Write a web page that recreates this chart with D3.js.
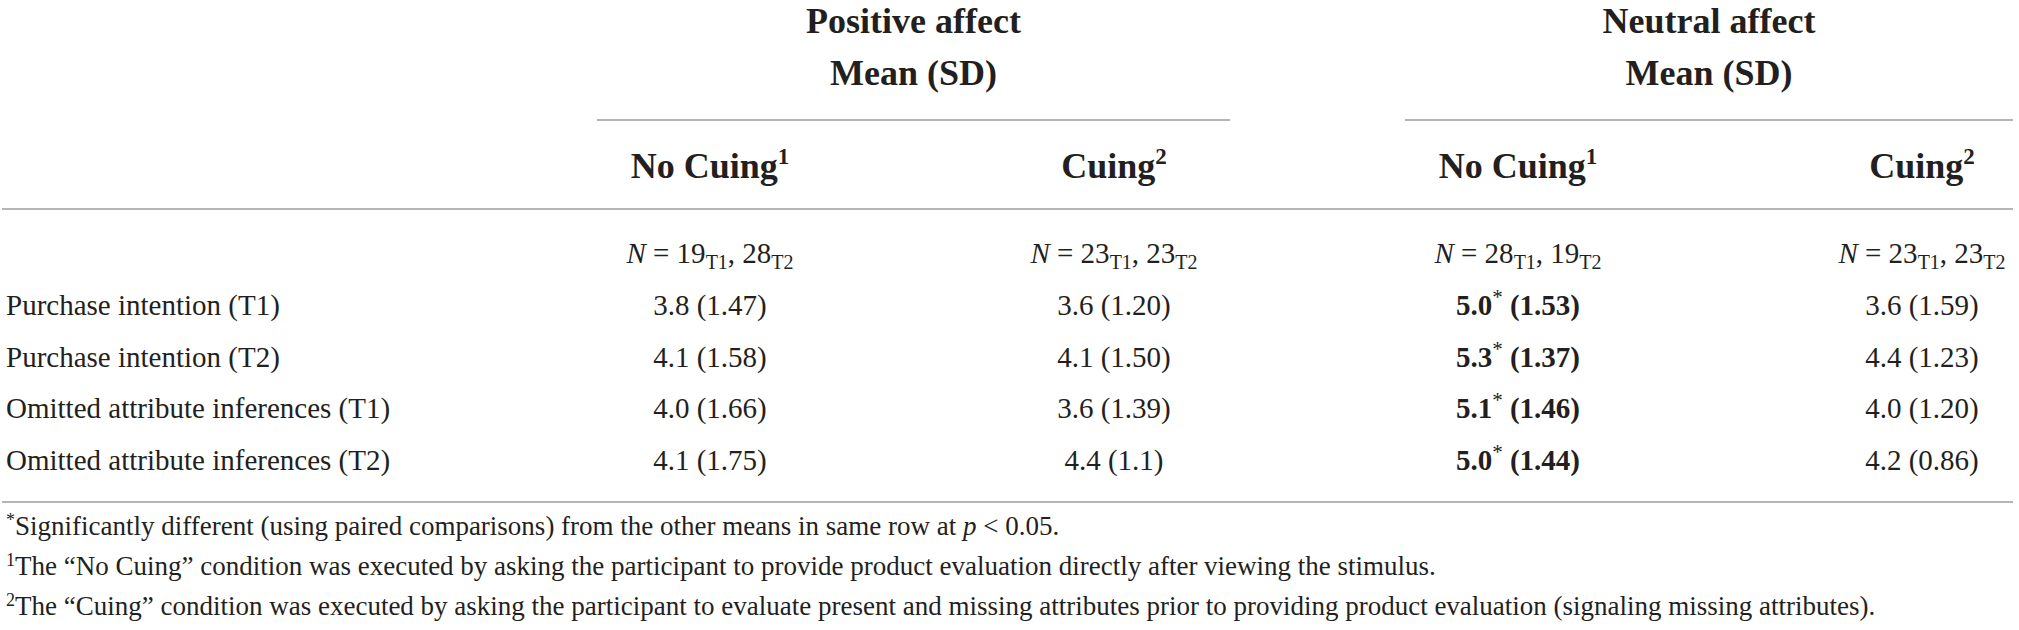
<!DOCTYPE html>
<html>
<head>
<meta charset="utf-8">
<script src="https://cdn.jsdelivr.net/npm/d3@7"></script>
<style>
    html, body { margin: 0; padding: 0; background: #fff; }
    svg { display: block; font-family: "Liberation Serif", "Times New Roman", serif; }
    .title { font-weight: bold; font-size: 36px; fill: #231f20; }
    .cell { font-size: 29px; fill: #231f20; }
    .note { font-size: 27px; fill: #231f20; }
    .rule { stroke: #9d9d9d; stroke-width: 1.6; }
</style>
</head>
<body>
<svg id="table"></svg>
<script>
// ---- table content ----
const groups = ["Positive affect", "Neutral affect"];
const groupSub = "Mean (SD)";
const conditions = ["No Cuing", "Cuing", "No Cuing", "Cuing"];
const condNotes = ["1", "2", "1", "2"];
const nT1 = [19, 23, 28, 23];
const nT2 = [28, 23, 19, 23];
const measures = [
    "Purchase intention (T1)",
    "Purchase intention (T2)",
    "Omitted attribute inferences (T1)",
    "Omitted attribute inferences (T2)"
];
const means = [
    [3.8, 3.6, 5.0, 3.6],
    [4.1, 4.1, 5.3, 4.4],
    [4.0, 3.6, 5.1, 4.0],
    [4.1, 4.4, 5.0, 4.2]
];
const sds = [
    ["1.47", "1.20", "1.53", "1.59"],
    ["1.58", "1.50", "1.37", "1.23"],
    ["1.66", "1.39", "1.46", "1.20"],
    ["1.75", "1.1", "1.44", "0.86"]
];
const significant = [
    [false, false, true, false],
    [false, false, true, false],
    [false, false, true, false],
    [false, false, true, false]
];
const footnotes = [
    [{ t: "*", sup: true }, { t: "Significantly different (using paired comparisons) from the other means in same row at " }, { t: "p", it: true }, { t: " < 0.05." }],
    [{ t: "1", sup: true }, { t: "The \u201cNo Cuing\u201d condition was executed by asking the participant to provide product evaluation directly after viewing the stimulus." }],
    [{ t: "2", sup: true }, { t: "The \u201cCuing\u201d condition was executed by asking the participant to evaluate present and missing attributes prior to providing product evaluation (signaling missing attributes)." }]
];

// ---- layout ----
const width = 2019, height = 630;
const left = 6, right = 2013;

const svg = d3.select("#table")
    .attr("width", width)
    .attr("height", height);

const colIdx = d3.range(conditions.length);

const x = d3.scalePoint()
    .domain(colIdx)
    .range([710, 1922]);

const y = d3.scalePoint()
    .domain(measures)
    .range([315, 470]);

const titleY = 33, subY = 85, groupRuleY = 120;
const headY = 178, headRuleY = 209, nY = 263;
const bottomRuleY = 502;
const noteY = d3.scalePoint().domain(d3.range(footnotes.length)).range([535, 615]);

// group headers spanning two columns each
const groupSpans = groups.map((g, i) => {
    const c0 = x(i * 2), c1 = x(i * 2 + 1);
    return { name: g, x0: c0 - 113, x1: Math.min(c1 + 116, right) };
});

const gHead = svg.append("g");

gHead.selectAll(".group-title")
    .data(groupSpans)
    .join("text")
    .attr("class", "title")
    .attr("text-anchor", "middle")
    .attr("x", (d) => (d.x0 + d.x1) / 2)
    .attr("y", titleY)
    .text((d) => d.name);

gHead.selectAll(".group-sub")
    .data(groupSpans)
    .join("text")
    .attr("class", "title")
    .attr("text-anchor", "middle")
    .attr("x", (d) => (d.x0 + d.x1) / 2)
    .attr("y", subY)
    .text(groupSub);

gHead.selectAll(".group-rule")
    .data(groupSpans)
    .join("line")
    .attr("class", "rule")
    .attr("x1", (d) => d.x0)
    .attr("x2", (d) => d.x1)
    .attr("y1", groupRuleY)
    .attr("y2", groupRuleY);

// condition headers
const heads = gHead.selectAll(".cond")
    .data(colIdx)
    .join("text")
    .attr("class", "title")
    .attr("text-anchor", "middle")
    .attr("x", (d) => x(d))
    .attr("y", headY);
heads.append("tspan").text((d) => conditions[d]);
heads.append("tspan")
    .attr("dy", -14)
    .attr("font-size", 23)
    .text((d) => condNotes[d]);

// full width rules
svg.selectAll(".full-rule")
    .data([headRuleY, bottomRuleY])
    .join("line")
    .attr("class", "rule")
    .attr("x1", 2)
    .attr("x2", right)
    .attr("y1", (d) => d)
    .attr("y2", (d) => d);

// sample size row
const nText = svg.selectAll(".n")
    .data(colIdx)
    .join("text")
    .attr("class", "cell")
    .attr("text-anchor", "middle")
    .attr("x", (d) => x(d))
    .attr("y", nY);
nText.append("tspan").attr("font-style", "italic").text("N");
nText.append("tspan").text((d) => ` = ${nT1[d]}`);
nText.append("tspan").attr("font-size", 20).attr("dy", 6).text("T1");
nText.append("tspan").attr("dy", -6).text((d) => `, ${nT2[d]}`);
nText.append("tspan").attr("font-size", 20).attr("dy", 6).text("T2");

// row labels
svg.selectAll(".row-label")
    .data(measures)
    .join("text")
    .attr("class", "cell")
    .attr("x", left)
    .attr("y", (d) => y(d))
    .text((d) => d);

// value cells
const cells = measures.flatMap((m, r) => colIdx.map((c) => ({
    row: m, col: c,
    mean: means[r][c], sd: sds[r][c], sig: significant[r][c]
})));

const cellText = svg.selectAll(".value")
    .data(cells)
    .join("text")
    .attr("class", "cell")
    .attr("text-anchor", "middle")
    .attr("x", (d) => x(d.col))
    .attr("y", (d) => y(d.row))
    .attr("font-weight", (d) => d.sig ? "bold" : null);

cellText.append("tspan").text((d) => d.mean.toFixed(1));
cellText.filter((d) => d.sig)
    .append("tspan")
    .attr("font-weight", "normal")
    .attr("font-size", 21)
    .attr("dy", -11)
    .text("*");
cellText.append("tspan")
    .attr("dy", (d) => d.sig ? 11 : null)
    .text((d) => ` (${d.sd})`);

// footnotes
const notes = svg.selectAll(".note")
    .data(footnotes)
    .join("text")
    .attr("class", "note")
    .attr("x", left)
    .attr("y", (d, i) => noteY(i));

notes.each(function (parts) {
    const t = d3.select(this);
    let raised = false;
    parts.forEach((p) => {
        const span = t.append("tspan").text(p.t);
        if (p.sup) {
            span.attr("font-size", 18).attr("dy", -9);
            raised = true;
        } else if (raised) {
            span.attr("dy", 9);
            raised = false;
        }
        if (p.it) span.attr("font-style", "italic");
    });
});
</script>
</body>
</html>
